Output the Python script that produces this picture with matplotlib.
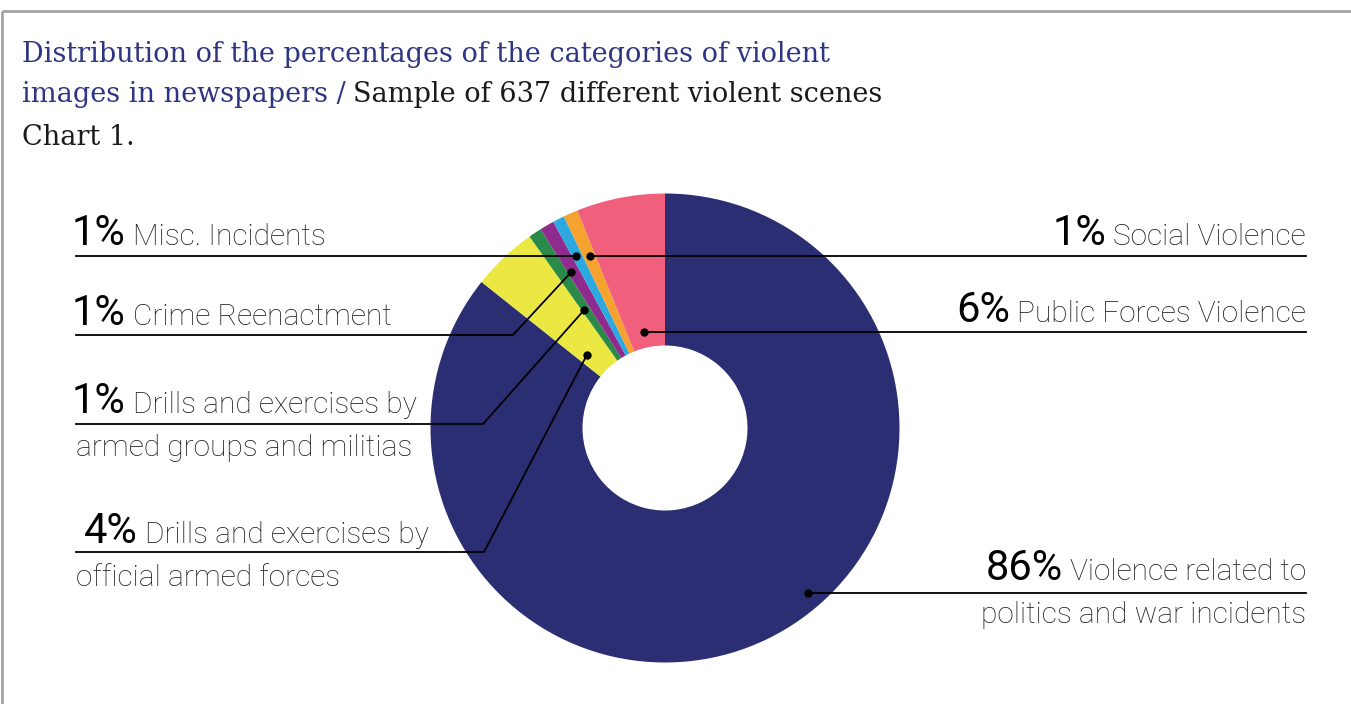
import matplotlib
matplotlib.use("Agg")
import matplotlib.pyplot as plt
import numpy as np

W, H = 1351, 704

# slice shares, clockwise from 12 o'clock
categories = ["Violence related to politics and war incidents",
              "Drills and exercises by official armed forces",
              "Drills and exercises by armed groups and militias",
              "Crime Reenactment",
              "Misc. Incidents",
              "Social Violence",
              "Public Forces Violence"]
shares = [85.7, 4.5, 0.9, 1.0, 0.8, 1.0, 6.1]
pct_labels = ["86%", "4%", "1%", "1%", "1%", "1%", "6%"]
colors = ["#2b2e73", "#ebe843", "#2a8a47", "#8f2a8f", "#2ca9e1", "#f6a22f", "#f0607d"]

NAVY = "#2e3583"
TXT = "#1a1a1a"
LBL = "Roboto"


def py(y):
    # pixel row (from top) -> data y
    return H - y


fig = plt.figure(figsize=(W / 100, H / 100), dpi=100)
ax = fig.add_axes([0, 0, 1, 1])
ax.set_xlim(0, W)
ax.set_ylim(0, H)
ax.set_aspect("equal")
ax.axis("off")

# frame: grey top and left edges
ax.plot([2, W], [py(10.5), py(10.5)], color="#a3a3a3", lw=2, solid_capstyle="butt")
ax.plot([2, 2], [py(10.5), 0], color="#a3a3a3", lw=2, solid_capstyle="butt")

# title
tfont = dict(family="DejaVu Serif", fontsize=19.5)
ax.text(22, py(62), "Distribution of the percentages of the categories of violent",
        color=NAVY, **tfont)
t2 = ax.text(22, py(102), "images in newspapers /", color=NAVY, **tfont)
ax.text(22, py(145), "Chart 1.", color=TXT, **tfont)

cx, cy, R, r_in = 665, py(428), 234.5, 82.5
wedges, _ = ax.pie(shares, colors=colors, startangle=90, counterclock=False,
                   center=(cx, cy), radius=R,
                   wedgeprops=dict(width=R - r_in, linewidth=0))
ax.set_xlim(0, W)
ax.set_ylim(0, H)

fig.canvas.draw()
rend = fig.canvas.get_renderer()
inv = ax.transData.inverted()


def width_px(t):
    return t.get_window_extent(rend).width


bb = t2.get_window_extent(rend)
ax.text(inv.transform((bb.x1, 0))[0] + 7, py(102), "Sample of 637 different violent scenes",
        color=TXT, **tfont)


def dot_at(i, frac, rad):
    w = wedges[i]
    a = np.deg2rad(w.theta1 + frac * (w.theta2 - w.theta1))
    return cx + rad * np.cos(a), cy + rad * np.sin(a)


def label(x, ybase, pct, desc, side, desc2=None):
    pf = dict(family=LBL, fontsize=30, color="black")
    df = dict(family=LBL, fontsize=21.5, color=TXT, fontweight="light")
    if side == "left":
        t = ax.text(x, py(ybase), pct, ha="left", va="baseline", **pf)
        ax.text(x + width_px(t) + 7, py(ybase), desc, ha="left", va="baseline", **df)
        if desc2:
            ax.text(76, py(ybase + 43), desc2, ha="left", va="baseline", **df)
    else:
        t = ax.text(x, py(ybase), desc, ha="right", va="baseline", **df)
        ax.text(x - width_px(t) - 7, py(ybase), pct, ha="right", va="baseline", **pf)
        if desc2:
            ax.text(x, py(ybase + 43), desc2, ha="right", va="baseline", **df)


LW = 1.3
DOT = 5

# Misc. Incidents (blue)
dx, dy = dot_at(4, 0.6, 194)
ax.plot([76, dx], [dy, dy], color="black", lw=LW)
ax.plot(dx, dy, "o", color="black", ms=DOT)
label(72, py(dy) - 11, pct_labels[4], "Misc. Incidents", "left")

# Social Violence (orange)
dx, dy = dot_at(5, 0.45, 188)
ax.plot([dx, 1306], [dy, dy], color="black", lw=LW)
ax.plot(dx, dy, "o", color="black", ms=DOT)
label(1306, py(dy) - 11, pct_labels[5], "Social Violence", "right")

# Crime Reenactment (purple)
dx, dy = dot_at(3, 0.7, 182)
ax.plot([76, 513, dx], [py(335), py(335), dy], color="black", lw=LW)
ax.plot(dx, dy, "o", color="black", ms=DOT)
label(72, 325, pct_labels[3], "Crime Reenactment", "left")

# Drills armed groups (green)
dx, dy = dot_at(2, 0.75, 143)
ax.plot([76, 483, dx], [py(424), py(424), dy], color="black", lw=LW)
ax.plot(dx, dy, "o", color="black", ms=DOT)
label(72, 413, pct_labels[2], "Drills and exercises by", "left",
      "armed groups and militias")

# Drills official (yellow)
dx, dy = dot_at(1, 0.72, 107)
ax.plot([76, 484, dx], [py(552), py(552), dy], color="black", lw=LW)
ax.plot(dx, dy, "o", color="black", ms=DOT)
label(84, 543, pct_labels[1], "Drills and exercises by", "left",
      "official armed forces")

# Public Forces Violence (pink)
dx, dy = dot_at(6, 0.56, 98)
ax.plot([dx, 1306], [dy, dy], color="black", lw=LW)
ax.plot(dx, dy, "o", color="black", ms=DOT)
label(1306, py(dy) - 10, pct_labels[6], "Public Forces Violence", "right")

# Violence related to politics (navy)
dx, dy = dot_at(0, 0.549, 218)
ax.plot([dx, 1306], [dy, dy], color="black", lw=LW)
ax.plot(dx, dy, "o", color="black", ms=DOT)
label(1306, py(dy) - 13, pct_labels[0], "Violence related to", "right",
      "politics and war incidents")

fig.savefig("out.png", dpi=100)
